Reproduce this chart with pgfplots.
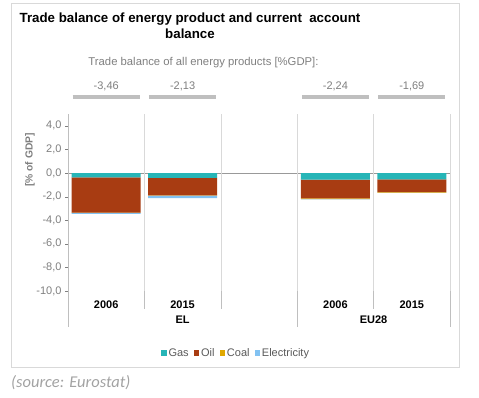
\documentclass[border=0pt]{standalone}
\usepackage{pgfplots}
\pgfplotsset{compat=1.18}
\usepackage{fontspec}
\setmainfont{Liberation Sans}
\newfontfamily\carlito{Carlito}
\definecolor{cGas}{HTML}{26B5B7}
\definecolor{cOil}{HTML}{A83C12}
\definecolor{cCoal}{HTML}{E0A800}
\definecolor{cElec}{HTML}{82C2F2}
\definecolor{tgray}{HTML}{7F7F7F}
\definecolor{bgray}{HTML}{BFBFBF}
\definecolor{ggray}{HTML}{D9D9D9}
\begin{document}
\begin{tikzpicture}[x=1pt,y=1pt]
\path[use as bounding box] (0,0) rectangle (479,397);
% outer frame
\draw[ggray, line width=1pt] (11.5,30) rectangle (459,393);
% title
\node[font=\fontsize{13.3}{16}\selectfont\bfseries, anchor=base] at (190,374.5) {Trade balance of energy product and current \ account};
\node[font=\fontsize{13.3}{16}\selectfont\bfseries, anchor=base] at (190,358.7) {balance};
\node[font=\fontsize{11.3}{13}\selectfont, text=tgray, anchor=base] at (203.5,331.5) {Trade balance of all energy products [\%GDP]:};
% y label
\node[font=\fontsize{10.3}{12}\selectfont\bfseries, text=tgray, rotate=90] at (30,237) {[\% of GDP]};
% source
\node[font=\fontsize{16.5}{19}\selectfont\carlito\itshape, text=bgray!85!black, anchor=west, inner sep=0pt] at (11,14) {(source: Eurostat)};
\begin{axis}[
  at={(68pt,106pt)}, anchor=south west,
  scale only axis, width=382pt, height=177pt,
  xmin=-0.5, xmax=4.5, ymin=-10, ymax=5,
  clip=false,
  axis line style={draw=none},
  ybar stacked, bar width=69pt,
  xtick={0,1,3,4}, xticklabels={2006,2015,2006,2015},
  x tick style={draw=none},
  xticklabel style={font=\fontsize{11}{13}\selectfont\bfseries, yshift=-3pt},
  ytick={-10,-8,...,4},
  ytick pos=left, tick align=outside, major tick length=3pt,
  y tick style={tgray},
  yticklabel style={font=\fontsize{11}{13}\selectfont, text=tgray},
  /pgf/number format/.cd, fixed, fixed zerofill, precision=1, use comma, assume math mode=true,
  /pgfplots/.cd,
  legend columns=4,
  legend style={at={(0.44,-0.35)}, anchor=center, draw=none, fill=none,
    font=\fontsize{11}{13}\selectfont, text=tgray!70!black,
    /tikz/every even column/.append style={column sep=3pt},
    inner sep=0pt},
]
% grid lines and separators
\draw[ggray] (axis cs:0.5,5) -- (axis cs:0.5,-10);
\draw[ggray] (axis cs:1.5,5) -- (axis cs:1.5,-10);
\draw[ggray] (axis cs:2.5,5) -- (axis cs:2.5,-10);
\draw[ggray] (axis cs:3.5,5) -- (axis cs:3.5,-10);
\draw[ggray] (axis cs:4.5,5) -- (axis cs:4.5,-10);
\draw[bgray] (axis cs:0.5,-10) -- ([yshift=-18pt]axis cs:0.5,-10);
\draw[bgray] (axis cs:1.5,-10) -- ([yshift=-18pt]axis cs:1.5,-10);
\draw[bgray] (axis cs:3.5,-10) -- ([yshift=-18pt]axis cs:3.5,-10);
\draw[bgray] (axis cs:2.5,-10) -- ([yshift=-36pt]axis cs:2.5,-10);
\draw[bgray] (axis cs:4.5,-10) -- ([yshift=-36pt]axis cs:4.5,-10);
\draw[bgray] (axis cs:-0.5,5) -- ([yshift=-36pt]axis cs:-0.5,-10);

\addplot[fill=cGas, draw=none, legend image code/.code={\fill[cGas] (0pt,-2.7pt) rectangle (5.4pt,2.7pt);}]
  coordinates {(0,-0.38) (1,-0.42) (3,-0.56) (4,-0.55)};
\addplot[fill=cOil, draw=none, legend image code/.code={\fill[cOil] (0pt,-2.7pt) rectangle (5.4pt,2.7pt);}]
  coordinates {(0,-2.98) (1,-1.48) (3,-1.60) (4,-1.07)};
\addplot[fill=cCoal, draw=none, legend image code/.code={\fill[cCoal] (0pt,-2.7pt) rectangle (5.4pt,2.7pt);}]
  coordinates {(0,-0.01) (1,-0.01) (3,-0.06) (4,-0.05)};
\addplot[fill=cElec, draw=none, legend image code/.code={\fill[cElec] (0pt,-2.7pt) rectangle (5.4pt,2.7pt);}]
  coordinates {(0,-0.09) (1,-0.22) (3,-0.02) (4,-0.02)};
\legend{Gas,Oil,Coal,Electricity}

\draw[gray!80] (axis cs:-0.5,0) -- (axis cs:4.5,0);
% group labels
\node[font=\fontsize{11}{13}\selectfont\bfseries] at ([yshift=-29pt]axis cs:1,-10) {EL};
\node[font=\fontsize{11}{13}\selectfont\bfseries] at ([yshift=-29pt]axis cs:3.5,-10) {EU28};
% top annotations: trade balance of all energy products
\draw[bgray, line width=3.2pt] ([yshift=17pt]axis cs:-0.44,5) -- ([yshift=17pt]axis cs:0.44,5);
\draw[bgray, line width=3.2pt] ([yshift=17pt]axis cs:0.56,5) -- ([yshift=17pt]axis cs:1.44,5);
\draw[bgray, line width=3.2pt] ([yshift=17pt]axis cs:2.56,5) -- ([yshift=17pt]axis cs:3.44,5);
\draw[bgray, line width=3.2pt] ([yshift=17pt]axis cs:3.56,5) -- ([yshift=17pt]axis cs:4.44,5);
\node[font=\fontsize{11}{13}\selectfont, text=tgray, anchor=base] at ([yshift=25pt]axis cs:0,5) {-3,46};
\node[font=\fontsize{11}{13}\selectfont, text=tgray, anchor=base] at ([yshift=25pt]axis cs:1,5) {-2,13};
\node[font=\fontsize{11}{13}\selectfont, text=tgray, anchor=base] at ([yshift=25pt]axis cs:3,5) {-2,24};
\node[font=\fontsize{11}{13}\selectfont, text=tgray, anchor=base] at ([yshift=25pt]axis cs:4,5) {-1,69};
\end{axis}
\end{tikzpicture}
\end{document}
